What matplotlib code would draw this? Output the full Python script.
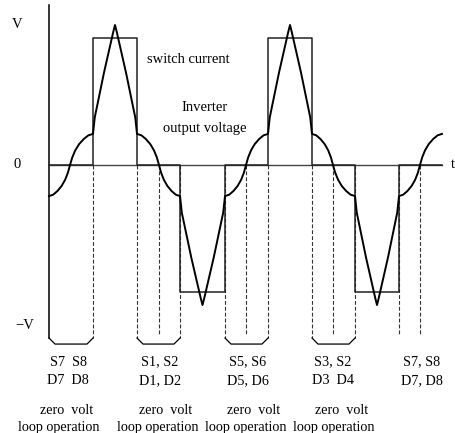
import matplotlib.pyplot as plt

# switching instants on the time axis (picture units)
edges = [0, 44, 88, 131, 176, 219, 263, 306, 350, 393]
# zero crossings of the inverter output voltage
crossings = [21, 110, 197, 284, 371]
# direction of the voltage in each zero-current interval (+1 rising)
arc_dirs = [1, -1, 1, -1, 1]
# switch current level in each conduction interval
current_levels = [0.91, -0.91, 0.91, -0.91]

# voltage shape between a zero crossing and a switching edge
arc_frac = [0.0, 0.1, 0.23, 0.4, 0.6, 0.8, 1.0]
arc_vals = [0.0, 0.055, 0.105, 0.15, 0.186, 0.212, 0.222]
# voltage shape from a switching edge to the middle of a conduction interval
peak_frac = [0.0, 0.08, 0.5, 0.92, 1.0]
peak_vals = [0.222, 0.34, 0.66, 0.95, 1.0]

# zero volt loop intervals (bracketed)
loops = [(0, 44), (88, 131), (176, 219), (263, 306)]

switch_labels = ["S7  S8", "S1, S2", "S5, S6", "S3, S2", "S7, S8"]
diode_labels = ["D7  D8", "D1, D2", "D5, D6", "D3  D4", "D7, D8"]
label_x = [19, 111, 199, 284, 373]
mode_x = [10, 109, 197, 285]

FONT = "Liberation Serif"


def voltage_curve():
    ts, vs = [], []
    for i in range(len(crossings)):
        a, b = edges[2 * i], edges[2 * i + 1]
        c, s = crossings[i], arc_dirs[i]
        for f, v in zip(reversed(arc_frac), reversed(arc_vals)):
            ts.append(c - f * (c - a))
            vs.append(-s * v)
        for f, v in zip(arc_frac[1:], arc_vals[1:]):
            ts.append(c + f * (b - c))
            vs.append(s * v)
        if i < len(current_levels):
            a2, b2 = edges[2 * i + 1], edges[2 * i + 2]
            m = (a2 + b2) / 2
            sg = 1 if current_levels[i] > 0 else -1
            for f, v in zip(peak_frac[1:], peak_vals[1:]):
                ts.append(a2 + f * (m - a2))
                vs.append(sg * v)
            for f, v in zip(reversed(peak_frac[:-1]), reversed(peak_vals[:-1])):
                ts.append(b2 - f * (b2 - m))
                vs.append(sg * v)
    return ts, vs


def current_curve():
    ts, vs = [edges[0]], [0]
    for i, lev in enumerate(current_levels):
        a, b = edges[2 * i + 1], edges[2 * i + 2]
        ts += [a, a, b, b]
        vs += [0, lev, lev, 0]
    ts.append(edges[-1])
    vs.append(0)
    return ts, vs


def main():
    fig = plt.figure(figsize=(4.55, 4.33), dpi=100)
    ax = fig.add_axes([0, 0, 1, 1])
    ax.set_xlim(-49, 406)
    ax.set_ylim(-268 / 140, 165 / 140)
    ax.axis("off")

    # axes
    ax.plot([0, 0], [160 / 140, -1.236], color="black", lw=1.1)
    ax.plot([0, edges[-1]], [0, 0], color="#444444", lw=1.0)

    # dashed guide lines
    loop_sides = [t for pair in loops for t in pair if t != 0]
    for t in loop_sides:
        ax.plot([t, t], [0, -1.236], color="#333333", lw=0.8,
                dashes=(3.5, 1.8))
    others = [t for t in edges[1:-1] + crossings[1:] if t not in loop_sides]
    for t in others:
        ax.plot([t, t], [0, -1.214], color="#333333", lw=0.8,
                dashes=(3.5, 1.8))

    # brackets
    for a, b in loops:
        ax.plot([a, a + 6, b - 6, b], [-1.236, -1.279, -1.279, -1.236],
                color="black", lw=0.9)

    ct, cv = current_curve()
    ax.plot(ct, cv, color="#222222", lw=1.1)
    vt, vv = voltage_curve()
    ax.plot(vt, vv, color="black", lw=1.4, solid_joinstyle="round")

    kw = dict(family=FONT, fontsize=10.5, color="black", va="center")
    ax.text(-32, 1.0, "V", ha="center", **kw)
    ax.text(-32, 0.0, "0", ha="center", **kw)
    ax.text(-24, -1.143, "\u2212V", ha="center", **kw)
    ax.text(402, 0.0, "t", ha="left", **kw)

    ax.text(98, 0.757, "switch current", ha="left", **kw)
    ax.text(156, 0.414, "Inverter", ha="center", **kw)
    ax.text(156, 0.264, "output voltage", ha="center", **kw)

    kb = dict(kw, fontsize=10.2)
    for x, s, d in zip(label_x, switch_labels, diode_labels):
        ax.text(x, -(362 - 165) / 140, s, ha="center", **kb)
        ax.text(x, -(381 - 165) / 140, d, ha="center", **kb)
    for x in mode_x:
        ax.text(x + 8, -(410 - 165) / 140, "zero  volt", ha="center", **kb)
        ax.text(x, -(428 - 165) / 140, "loop operation", ha="center", **kb)

    fig.savefig("out.png", dpi=100)


if __name__ == "__main__":
    main()
